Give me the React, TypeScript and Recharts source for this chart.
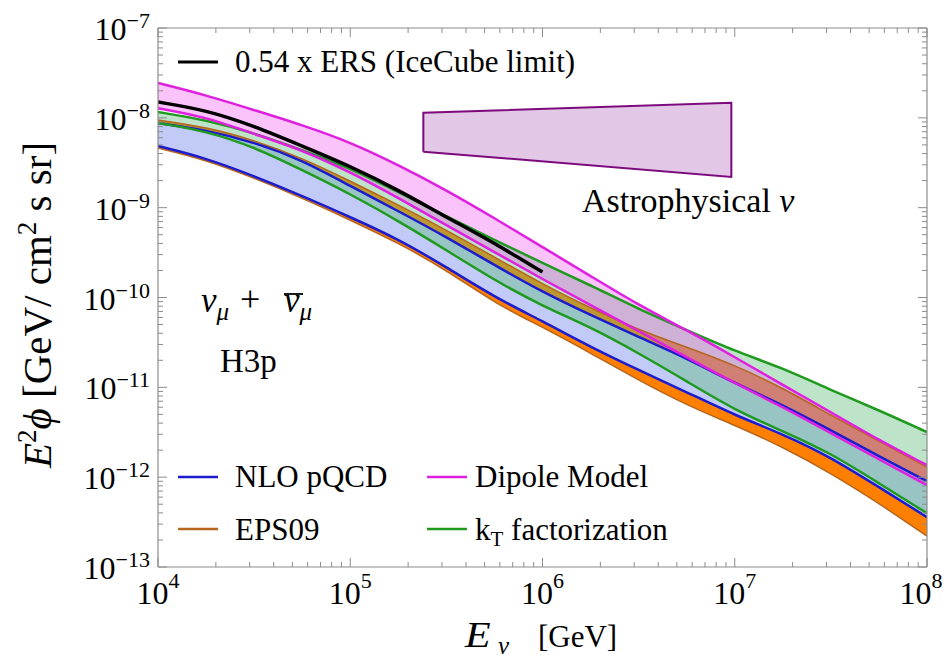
import React from "react";
import { Area, ComposedChart, Line, XAxis, YAxis } from "recharts";

// E_nu in GeV, quarter-decade steps
const energyGeV = [
  1e4, 1.78e4, 3.16e4, 5.62e4, 1e5, 1.78e5, 3.16e5, 5.62e5, 1e6, 1.78e6,
  3.16e6, 5.62e6, 1e7, 1.78e7, 3.16e7, 5.62e7, 1e8,
];

// E^2 phi bands [GeV / cm^2 s sr]
const nloLow = [
  4.85e-9, 3.56e-9, 2.25e-9, 1.35e-9, 7.85e-10, 4.47e-10, 2.18e-10, 1.01e-10,
  5.46e-11, 2.81e-11, 1.56e-11, 8.85e-12, 4.9e-12, 3.01e-12, 1.67e-12,
  7.74e-13, 3.59e-13,
];
const nloHigh = [
  8.75e-9, 7.31e-9, 5.37e-9, 3.39e-9, 1.74e-9, 9.16e-10, 4.71e-10, 2.3e-10,
  1.15e-10, 6.37e-11, 3.62e-11, 2.11e-11, 1.11e-11, 6.34e-12, 3.33e-12,
  1.71e-12, 9.02e-13,
];
const epsLow = [
  4.61e-9, 3.39e-9, 2.14e-9, 1.28e-9, 7.28e-10, 4.04e-10, 2.02e-10, 8.67e-11,
  4.68e-11, 2.4e-11, 1.2e-11, 6.34e-12, 3.79e-12, 2.16e-12, 1.11e-12,
  5.13e-13, 2.2e-13,
];
const epsHigh = [
  9.46e-9, 7.91e-9, 5.66e-9, 3.56e-9, 1.98e-9, 1.07e-9, 5.64e-10, 2.82e-10,
  1.41e-10, 7.62e-11, 4.34e-11, 2.81e-11, 1.77e-11, 9.8e-12, 4.9e-12,
  2.52e-12, 1.29e-12,
];
const dipoleLow = [
  1.28e-8, 1.02e-8, 6.61e-9, 4.38e-9, 2.49e-9, 1.28e-9, 6.4e-10, 3.21e-10,
  1.6e-10, 8.22e-11, 4.23e-11, 2.17e-11, 1.11e-11, 6.03e-12, 3.09e-12,
  1.58e-12, 8.15e-13,
];
const dipoleHigh = [
  2.44e-8, 1.79e-8, 1.22e-8, 8.32e-9, 5.37e-9, 2.98e-9, 1.57e-9, 7.66e-10,
  3.64e-10, 1.73e-10, 8.22e-11, 4.34e-11, 2.17e-11, 1.06e-11, 5.3e-12,
  2.58e-12, 1.36e-12,
];
const ktLow = [
  8.75e-9, 7.13e-9, 4.73e-9, 2.62e-9, 1.42e-9, 7.1e-10, 3.37e-10, 1.56e-10,
  8.02e-11, 4.68e-11, 2.4e-11, 1.17e-11, 5.57e-12, 3.25e-12, 1.85e-12,
  8.57e-13, 3.97e-13,
];
const ktHigh = [
  1.16e-8, 9.46e-9, 6.78e-9, 4.38e-9, 2.76e-9, 1.49e-9, 8.05e-10, 4.36e-10,
  2.42e-10, 1.37e-10, 7.43e-11, 4.34e-11, 2.53e-11, 1.64e-11, 9.31e-12,
  5.57e-12, 3.17e-12,
];
// 0.54 x ERS, only up to 1e6 GeV
const ersFlux = [
  1.5e-8, 1.22e-8, 8.11e-9, 4.85e-9, 2.9e-9, 1.57e-9, 7.85e-10, 4.04e-10,
  1.92e-10,
];

// astrophysical flux box
const astroEnergy = [2.4e5, 9.6e6];
const astroLow = [4.2e-9, 2.2e-9];
const astroHigh = [1.14e-8, 1.47e-8];

const xMajor = [1e4, 1e5, 1e6, 1e7, 1e8];
const yMajor = [1e-13, 1e-12, 1e-11, 1e-10, 1e-9, 1e-8, 1e-7];
const minorSteps = [2, 3, 4, 5, 6, 7, 8, 9];

const FRAME = "#8c8c8c";
const FONT = '"Liberation Serif", "Times New Roman", serif';

const C = {
  nloLine: "#1c1ccf",
  nloFill: "#c2cbf7",
  epsLine: "#b5651d",
  epsFill: "#ff8000",
  dipLine: "#e020e0",
  dipFill: "#f054f0",
  ktLine: "#1f9a1f",
  ktFill: "#5ab978",
  astroLine: "#7d0a7d",
  astroFill: "#e2c7e6",
};

const withMinors = (majors: number[]) => {
  const out: number[] = [];
  majors.forEach((m, i) => {
    out.push(m);
    if (i < majors.length - 1) minorSteps.forEach((k) => out.push(m * k));
  });
  return out;
};
const xTicks = withMinors(xMajor);
const yTicks = withMinors(yMajor);

const rows = energyGeV.map((e, i) => ({
  e,
  eps: [epsLow[i], epsHigh[i]],
  nlo: [nloLow[i], nloHigh[i]],
  kt: [ktLow[i], ktHigh[i]],
  dip: [dipoleLow[i], dipoleHigh[i]],
  ers: ersFlux[i],
}));

const astroRows = astroEnergy.map((e, i) => ({
  e,
  astro: [astroLow[i], astroHigh[i]],
}));
// outline of the box, walked corner to corner
const astroOutline = [
  { e: astroEnergy[0], v: astroLow[0] },
  { e: astroEnergy[0], v: astroHigh[0] },
  { e: astroEnergy[1], v: astroHigh[1] },
  { e: astroEnergy[1], v: astroLow[1] },
  { e: astroEnergy[0], v: astroLow[0] },
];

const isMajor = (v: number) =>
  Math.abs(Math.log10(v) - Math.round(Math.log10(v))) < 1e-9;
const expOf = (v: number) => Math.round(Math.log10(v));
const expText = (n: number) => (n < 0 ? "\u2212" + Math.abs(n) : String(n));

function BottomTick(props: any) {
  const { x, y, payload } = props;
  const major = isMajor(payload.value);
  // last label would run past the page edge, nudge it in a little
  const lx = payload.value >= 1e8 ? x - 6 : x;
  return (
    <g>
      <line x1={x} x2={x} y1={y} y2={y - (major ? 9 : 5)} stroke={FRAME} />
      {major && (
        <text x={lx} y={y + 37} textAnchor="middle" fontFamily={FONT} fontSize={32} fill="#000">
          10
          <tspan dy={-16} fontSize={22}>
            {expText(expOf(payload.value))}
          </tspan>
        </text>
      )}
    </g>
  );
}

function TopTick(props: any) {
  const { x, y, payload } = props;
  const major = isMajor(payload.value);
  return <line x1={x} x2={x} y1={y} y2={y + (major ? 9 : 5)} stroke={FRAME} />;
}

function LeftTick(props: any) {
  const { x, y, payload } = props;
  const major = isMajor(payload.value);
  return (
    <g>
      <line x1={x} x2={x + (major ? 9 : 5)} y1={y} y2={y} stroke={FRAME} />
      {major && (
        <text x={x - 8} y={y + 12} textAnchor="end" fontFamily={FONT} fontSize={32} fill="#000">
          10
          <tspan dy={-12} fontSize={22}>
            {expText(expOf(payload.value))}
          </tspan>
        </text>
      )}
    </g>
  );
}

function RightTick(props: any) {
  const { x, y, payload } = props;
  const major = isMajor(payload.value);
  return <line x1={x} x2={x - (major ? 9 : 5)} y1={y} y2={y} stroke={FRAME} />;
}

const edge = (key: "eps" | "nlo" | "kt" | "dip", idx: 0 | 1) => (d: any) =>
  d && d[key] ? d[key][idx] : undefined;

const axisCommon = {
  type: "number" as const,
  scale: "log" as const,
  allowDataOverflow: true,
  interval: 0 as const,
  tickSize: 0,
  tickMargin: 0,
  tickLine: false,
  axisLine: { stroke: FRAME, strokeWidth: 1.2 },
};

export default function App() {
  const lineProps = {
    type: "basis" as const,
    dot: false,
    activeDot: false,
    isAnimationActive: false,
    strokeWidth: 2.5,
  };
  const areaProps = {
    type: "basis" as const,
    stroke: "none",
    dot: false,
    activeDot: false,
    isAnimationActive: false,
  };

  return (
    <div style={{ position: "relative", width: 936, height: 653 }}>
      <ComposedChart
        width={936}
        height={653}
        data={rows}
        margin={{ top: 19, right: 16, bottom: 93, left: 149 }}
      >
        <XAxis
          {...axisCommon}
          dataKey="e"
          domain={[1e4, 1e8]}
          ticks={xTicks}
          height={1}
          tick={(p: any) => <BottomTick {...p} />}
        />
        <XAxis
          {...axisCommon}
          xAxisId="top"
          orientation="top"
          dataKey="e"
          domain={[1e4, 1e8]}
          ticks={xTicks}
          height={1}
          tick={(p: any) => <TopTick {...p} />}
        />
        <YAxis
          {...axisCommon}
          domain={[1e-13, 1e-7]}
          ticks={yTicks}
          width={1}
          tick={(p: any) => <LeftTick {...p} />}
        />
        <YAxis
          {...axisCommon}
          yAxisId="right"
          orientation="right"
          domain={[1e-13, 1e-7]}
          ticks={yTicks}
          width={1}
          tick={(p: any) => <RightTick {...p} />}
        />

        <Area {...areaProps} dataKey="eps" fill={C.epsFill} fillOpacity={1} />
        <Area {...areaProps} dataKey="nlo" fill={C.nloFill} fillOpacity={1} />
        <Area {...areaProps} dataKey="kt" fill={C.ktFill} fillOpacity={0.4} />
        <Area {...areaProps} dataKey="dip" fill={C.dipFill} fillOpacity={0.35} />
        <Area
          data={astroRows}
          dataKey="astro"
          type="linear"
          fill={C.astroFill}
          fillOpacity={1}
          stroke="none"
          dot={false}
          activeDot={false}
          isAnimationActive={false}
        />
        <Line
          data={astroOutline}
          dataKey="v"
          type="linear"
          stroke={C.astroLine}
          strokeWidth={2}
          dot={false}
          activeDot={false}
          isAnimationActive={false}
        />

        <Line {...lineProps} dataKey={edge("eps", 0)} stroke={C.epsLine} strokeWidth={1.5} />
        <Line {...lineProps} dataKey={edge("eps", 1)} stroke={C.epsLine} strokeWidth={1.5} />
        <Line {...lineProps} dataKey={edge("nlo", 0)} stroke={C.nloLine} />
        <Line {...lineProps} dataKey={edge("nlo", 1)} stroke={C.nloLine} />
        <Line {...lineProps} dataKey={edge("kt", 0)} stroke={C.ktLine} />
        <Line {...lineProps} dataKey={edge("kt", 1)} stroke={C.ktLine} />
        <Line {...lineProps} dataKey={edge("dip", 0)} stroke={C.dipLine} />
        <Line {...lineProps} dataKey={edge("dip", 1)} stroke={C.dipLine} />
        <Line {...lineProps} dataKey="ers" stroke="#000" strokeWidth={3.5} />
      </ComposedChart>

      <svg
        width={936}
        height={653}
        style={{ position: "absolute", left: 0, top: 0, pointerEvents: "none" }}
        fontFamily={FONT}
        fill="#000"
      >
        <line x1={170} x2={210} y1={54} y2={54} stroke="#000" strokeWidth={3} />
        <text x={227} y={64} fontSize={31}>0.54 x ERS (IceCube limit)</text>

        <line x1={170} x2={210} y1={469} y2={469} stroke={C.nloLine} strokeWidth={2.5} />
        <text x={227} y={479} fontSize={31}>NLO pQCD</text>
        <line x1={170} x2={210} y1={521} y2={521} stroke={C.epsLine} strokeWidth={2.5} />
        <text x={227} y={532} fontSize={31}>EPS09</text>
        <line x1={419} x2={459} y1={469} y2={469} stroke={C.dipLine} strokeWidth={2.5} />
        <text x={467} y={479} fontSize={31}>Dipole Model</text>
        <line x1={419} x2={459} y1={521} y2={521} stroke={C.ktLine} strokeWidth={2.5} />
        <text x={467} y={532} fontSize={31}>
          k<tspan dy={6} fontSize={21}>T</tspan>
          <tspan dy={-6}> factorization</tspan>
        </text>

        <text x={574} y={204} fontSize={34}>
          Astrophysical <tspan fontStyle="italic">ν</tspan>
        </text>

        <text x={193} y={304} fontSize={35}>
          <tspan fontStyle="italic">ν</tspan>
          <tspan fontStyle="italic" fontSize={25} dy={8}>μ</tspan>
        </text>
        <text x={232} y={303} fontSize={36}>+</text>
        <text x={276} y={304} fontSize={35}>
          <tspan fontStyle="italic">ν</tspan>
          <tspan fontStyle="italic" fontSize={25} dy={8}>μ</tspan>
        </text>
        <line x1={276} x2={295} y1={286} y2={286} stroke="#000" strokeWidth={1.8} />
        <text x={212} y={364} fontSize={33}>H3p</text>

        <text transform="translate(457,639) scale(1.2,1)" fontSize={35} fontStyle="italic">
          E
        </text>
        <text x={490} y={646} fontSize={25} fontStyle="italic">ν</text>
        <text x={530} y={639} fontSize={31}>[GeV]</text>

        <text transform="translate(43,297) rotate(-90)" textAnchor="middle" fontSize={41}>
          <tspan fontStyle="italic">E</tspan>
          <tspan fontSize={27} dy={-15}>2</tspan>
          <tspan fontStyle="italic" dy={15}>ϕ</tspan>
          <tspan> [GeV/ cm</tspan>
          <tspan fontSize={27} dy={-15}>2</tspan>
          <tspan dy={15}> s sr]</tspan>
        </text>
      </svg>
    </div>
  );
}
